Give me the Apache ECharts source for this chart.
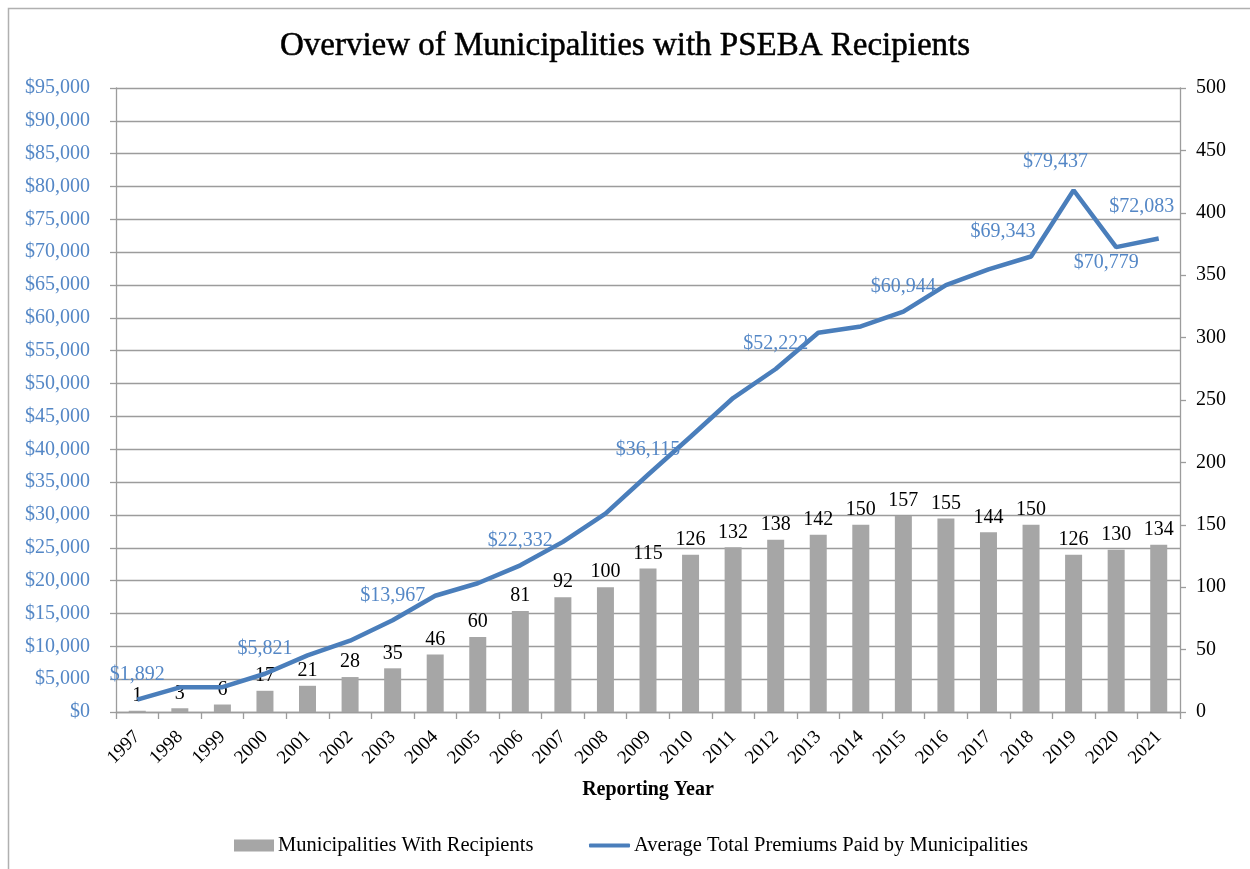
<!DOCTYPE html>
<html>
<head>
<meta charset="utf-8">
<script src="https://cdn.jsdelivr.net/npm/echarts@6/dist/echarts.min.js"></script>
<style>
html,body{margin:0;padding:0;background:#fff;}
#chart{width:1250px;height:869px;}
</style>
</head>
<body>
<div id="chart"></div>
<script>
// ---- data ----
const years = ['1997','1998','1999','2000','2001','2002','2003','2004','2005','2006','2007','2008','2009','2010','2011','2012','2013','2014','2015','2016','2017','2018','2019','2020','2021'];
const municipalities = [1,3,6,17,21,28,35,46,60,81,92,100,115,126,132,138,142,150,157,155,144,150,126,130,134];
const avgPremiums = [1892,3760,3780,5821,8630,10860,13967,17700,19600,22332,25900,30200,36115,41900,47800,52222,57750,58700,60944,65000,67400,69343,79437,70779,72083];
const labeledYears = ['1997','2000','2003','2006','2009','2012','2015','2018','2019','2020','2021'];
const seriesNames = ['Municipalities With Recipients','Average Total Premiums Paid by Municipalities'];
const titleText = 'Overview of Municipalities with PSEBA Recipients';
const xAxisTitle = 'Reporting Year';

// ---- styling ----
const SERIF = '"Liberation Serif","Times New Roman",serif';
const BLUE = '#4a7ebb';
const LBLUE = '#5487c6';
const GRID = '#9c9c9c';

const labelOverrides = {
  '2018': {offset:[-28,0]},
  '2019': {offset:[-18,-3]},
  '2020': {position:'bottom', distance:6, offset:[-10,0]},
  '2021': {offset:[-17,-7]}
};

const lineData = avgPremiums.map((v,i)=>{
  const y = years[i];
  const show = labeledYears.includes(y);
  const lab = Object.assign({show:show}, labelOverrides[y]||{});
  return {value:v, label:lab};
});

const chart = echarts.init(document.getElementById('chart'), null, {renderer:'canvas'});
chart.setOption({
  animation:false,
  backgroundColor:'#fff',
  textStyle:{fontFamily:SERIF},
  graphic:[{
    type:'rect', shape:{x:8.5,y:8.5,width:1300,height:900},
    style:{fill:'none', stroke:'#b0b0b0', lineWidth:1.5}, silent:true
  }],
  title:{
    text:titleText, left:'center', top:25,
    textStyle:{fontFamily:SERIF, fontSize:33, fontWeight:'normal', color:'#000',
      textBorderColor:'#000', textBorderWidth:0.5}
  },
  legend:[
    {
      left:229, top:830,
      itemWidth:40, itemHeight:12,
      textStyle:{fontFamily:SERIF, fontSize:20.5, color:'#000', padding:[0,0,0,-1]},
      data:[{name:seriesNames[0], icon:'rect'}]
    },
    {
      left:584, top:830,
      itemWidth:41, itemHeight:4,
      textStyle:{fontFamily:SERIF, fontSize:20.5, color:'#000', padding:[0,0,0,-1]},
      data:[{name:seriesNames[1], icon:'roundRect'}]
    }
  ],
  grid:{left:116, right:70, top:88, bottom:157, containLabel:false},
  xAxis:{
    type:'category', data:years,
    boundaryGap:true,
    name:xAxisTitle, nameLocation:'middle', nameGap:68,
    nameTextStyle:{fontFamily:SERIF, fontSize:20, fontWeight:'bold', color:'#000'},
    axisLine:{lineStyle:{color:GRID, width:1.3}},
    axisTick:{show:true, alignWithLabel:false, length:7, lineStyle:{color:GRID, width:1.3}},
    axisLabel:{rotate:45, margin:22, fontFamily:SERIF, fontSize:19, color:'#000', interval:0}
  },
  yAxis:[
    {
      type:'value', min:0, max:95000, interval:5000, position:'left',
      axisLine:{show:true, lineStyle:{color:GRID, width:1.3}},
      axisTick:{show:true, length:6, lineStyle:{color:GRID, width:1.3}},
      splitLine:{show:true, lineStyle:{color:GRID, width:1.3}},
      axisLabel:{margin:26, fontFamily:SERIF, fontSize:20, color:LBLUE,
        formatter:v=>'$'+v.toLocaleString('en-US')}
    },
    {
      type:'value', min:0, max:500, interval:50, position:'right',
      axisLine:{show:true, lineStyle:{color:GRID, width:1.3}},
      axisTick:{show:true, length:6, lineStyle:{color:GRID, width:1.3}},
      splitLine:{show:false},
      axisLabel:{margin:16, fontFamily:SERIF, fontSize:20, color:'#000'}
    }
  ],
  series:[
    {
      name:seriesNames[0], type:'bar', yAxisIndex:1,
      data:municipalities, barWidth:17,
      itemStyle:{color:'#a6a6a6'},
      label:{show:true, position:'top', distance:5, fontFamily:SERIF, fontSize:20, color:'#000'},
      z:2
    },
    {
      name:seriesNames[1], type:'line', yAxisIndex:0,
      data:lineData, symbol:'circle', symbolSize:0.01, showSymbol:true, smooth:false,
      lineStyle:{color:BLUE, width:4.5},
      itemStyle:{color:BLUE},
      label:{position:'top', distance:15, fontFamily:SERIF, fontSize:20, color:LBLUE,
        formatter:p=>'$'+p.value.toLocaleString('en-US')},
      z:3
    }
  ]
});
</script>
</body>
</html>
